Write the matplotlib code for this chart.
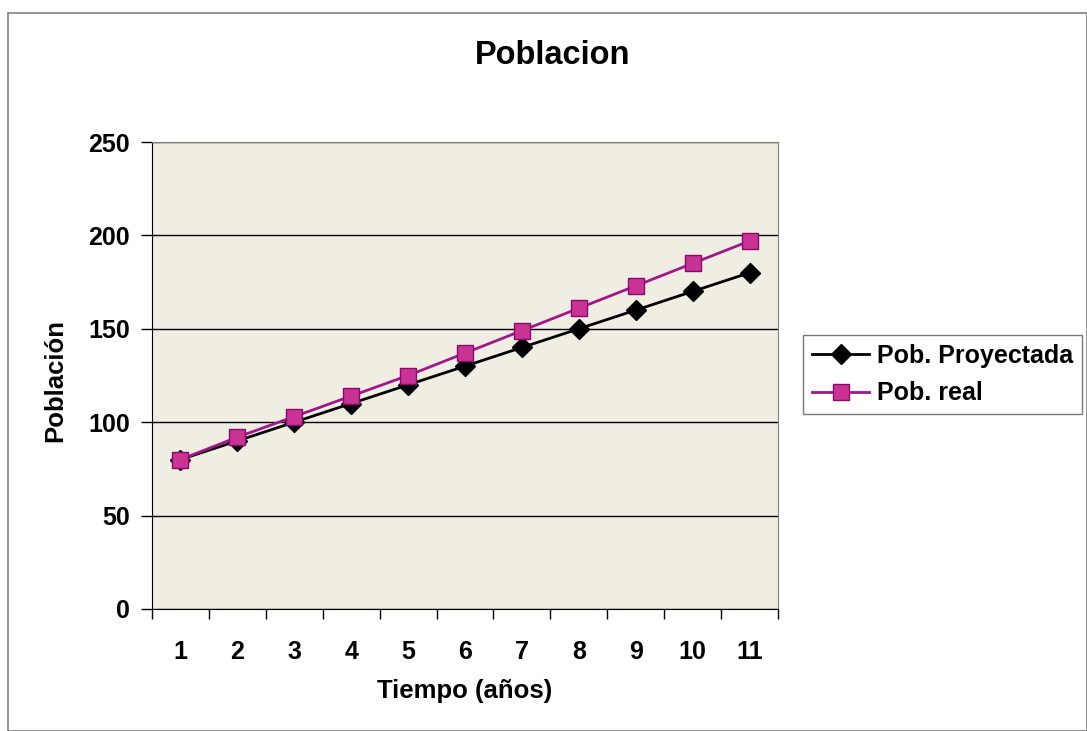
import matplotlib
matplotlib.use("Agg")
import matplotlib.pyplot as plt
from matplotlib.patches import Rectangle
from matplotlib.ticker import FixedLocator, NullFormatter

plt.rcParams['font.family'] = ['Liberation Sans', 'DejaVu Sans']

years = [1, 2, 3, 4, 5, 6, 7, 8, 9, 10, 11]
pob_proyectada = [80, 90, 100, 110, 120, 130, 140, 150, 160, 170, 180]
pob_real = [80, 92, 103, 114, 125, 137, 149, 161, 173, 185, 197]
y_ticks = [0, 50, 100, 150, 200, 250]

W, H = 1087, 731
fig = plt.figure(figsize=(W / 100, H / 100), dpi=100)
fig.patch.set_facecolor('white')

# outer chart border
fig.add_artist(Rectangle((8 / W, 0), (W - 8) / W, (H - 13) / H, transform=fig.transFigure,
                         fill=False, edgecolor='#808080', linewidth=1.2))

ax = fig.add_axes([152 / W, 1 - 609 / H, (778 - 152) / W, (609 - 142) / H])
ax.set_facecolor('#F0EEE2')

ax.plot(years, pob_proyectada, color='black', linewidth=2, marker='D', markersize=10,
        markerfacecolor='black', markeredgecolor='black', label='Pob. Proyectada', zorder=3)
ax.plot(years, pob_real, color='#A3168A', linewidth=2, marker='s', markersize=11,
        markerfacecolor='#C83394', markeredgecolor='#8A0A6C', label='Pob. real', zorder=4)

ax.set_xlim(0.5, 11.5)
ax.set_ylim(0, 250)
ax.set_yticks(y_ticks)
ax.yaxis.grid(True, color='black', linewidth=1)
ax.set_axisbelow(True)

ax.set_xticks(years)
ax.set_xticklabels([str(v) for v in years])
ax.xaxis.set_minor_locator(FixedLocator([v + 0.5 for v in [0] + years]))
ax.xaxis.set_minor_formatter(NullFormatter())
ax.tick_params(axis='x', which='major', length=0, pad=22, labelsize=18)
ax.tick_params(axis='x', which='minor', length=7, width=1, direction='out', color='black')
ax.tick_params(axis='y', which='major', length=8, width=1, direction='out', labelsize=18, pad=8)
for lab in ax.get_xticklabels() + ax.get_yticklabels():
    lab.set_fontweight('bold')

for s in ['top', 'right']:
    ax.spines[s].set_color('#808080')
for s in ['left', 'bottom']:
    ax.spines[s].set_color('black')

fig.text(553 / W, 1 - 55 / H, 'Poblacion', ha='center', va='center', fontsize=23.5, fontweight='bold')
fig.text(465 / W, 1 - 691 / H, 'Tiempo (años)', ha='center', va='center', fontsize=18.5, fontweight='bold')
fig.text(55 / W, 1 - 380 / H, 'Población', ha='center', va='center', rotation=90, fontsize=18.5, fontweight='bold')

leg = fig.legend(loc='upper left', bbox_to_anchor=(803 / W, 1 - 335 / H), frameon=True,
                 fancybox=False, edgecolor='#555555', fontsize=18, handlelength=2.3,
                 handletextpad=0.3, borderpad=0.35, labelspacing=0.55, borderaxespad=0)
for t in leg.get_texts():
    t.set_fontweight('bold')
leg.get_frame().set_linewidth(1)

fig.savefig('out.png', dpi=100)
